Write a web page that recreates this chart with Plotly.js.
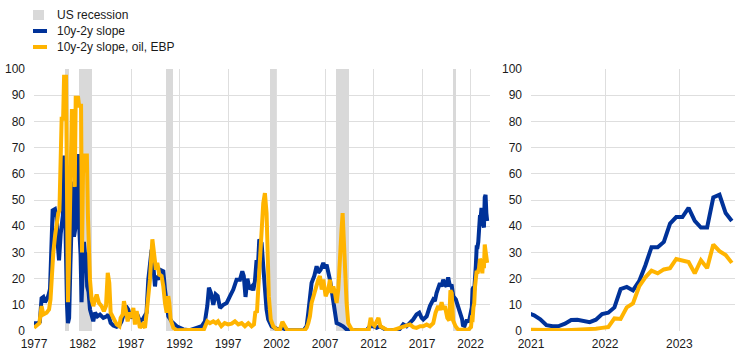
<!DOCTYPE html>
<html>
<head>
<meta charset="utf-8">
<script src="https://cdn.plot.ly/plotly-3.0.1.min.js"></script>
<style>
  html, body { margin: 0; padding: 0; background: #ffffff; }
  #chart { width: 744px; height: 358px; }
</style>
</head>
<body>
<div id="chart"></div>
<script>
// ---------------- DATA ----------------
// Series names
const seriesNames = ["US recession", "10y-2y slope", "10y-2y slope, oil, EBP"];

// US recession periods (decimal years, as shaded in the chart)
const recStart = [1980.2, 1981.6, 1990.65, 2001.3, 2008.1, 2020.2];
const recEnd   = [1980.6, 1982.95, 1991.3, 2001.95, 2009.5, 2020.45];
const recHeight = [100, 100, 100, 100, 100, 100];

// History 1977-2020: 10y-2y slope (probability, %)
const slopeHistT = [1977.0,1977.4,1977.6,1977.78,1977.96,1978.13,1978.3,1978.48,1978.65,1978.8,1978.92,1979.16,1979.33,1979.45,1979.58,1979.75,1979.85,1979.97,1980.1,1980.2,1980.3,1980.4,1980.5,1980.62,1980.75,1980.88,1981.0,1981.12,1981.3,1981.45,1981.57,1981.68,1981.8,1981.9,1982.02,1982.15,1982.28,1982.38,1982.48,1982.62,1982.77,1982.94,1983.11,1983.29,1983.53,1983.8,1984.15,1984.49,1984.66,1984.9,1985.18,1985.52,1985.8,1986.03,1986.27,1986.48,1986.72,1986.96,1987.24,1987.42,1987.65,1987.92,1988.2,1988.44,1988.6,1988.78,1988.95,1989.12,1989.3,1989.47,1989.57,1989.81,1989.98,1990.33,1990.5,1990.67,1990.84,1991.18,1991.7,1992.39,1993.07,1993.76,1994.28,1994.62,1994.86,1995.03,1995.24,1995.48,1995.72,1995.93,1996.17,1996.51,1996.86,1997.2,1997.54,1997.88,1998.23,1998.47,1998.62,1998.8,1999.0,1999.2,1999.45,1999.6,1999.77,1999.94,2000.1,2000.22,2000.46,2000.63,2000.8,2000.97,2001.14,2001.48,2001.8,2002.17,2002.5,2002.86,2003.2,2004.8,2005.1,2005.27,2005.44,2005.61,2005.89,2006.13,2006.3,2006.54,2006.82,2006.99,2007.16,2007.33,2007.5,2007.67,2007.85,2008.02,2008.19,2008.53,2008.86,2009.22,2009.5,2011.3,2011.62,2011.97,2012.31,2012.65,2013.0,2013.34,2014.6,2014.9,2015.06,2015.4,2015.75,2016.09,2016.43,2016.71,2016.95,2017.12,2017.47,2017.81,2018.15,2018.32,2018.49,2018.66,2018.84,2019.01,2019.18,2019.35,2019.52,2019.69,2019.87,2020.04,2020.21,2020.48,2020.72,2020.88];
const slopeHistV = [3,3,3.5,12.5,13,11,12,13.5,16,33,46,46.5,43.5,33,27,37,41,44,67,45,20,10,3,5,25,40,57,36,40,57,67.5,38,29,11,29,34,28,30,17,15,8.2,6.3,3.7,7,5.6,6.3,5,5.6,6.3,3.1,2.1,1.6,2.1,3.7,6.3,9.5,8.2,5,6.3,5,6.3,3.7,4.4,5.6,7,19.6,26,31,24.7,17,21,19.6,23.4,22.8,15.8,9.5,5.6,3.7,1.8,0.6,0.3,1.2,1.8,3.7,9.5,16.5,14.5,10,14,13.3,8.8,10,10.7,13.3,15.8,19.6,19.6,22.8,21,13,20,16,17,15.5,19,27,26,35,33.5,24.7,15.8,8.2,4.4,1.8,1.2,0.6,1.2,0.6,0.3,0.3,1.8,7,14.5,18.3,21,24.7,22.2,23.4,26,24,25.3,22.8,19.6,15.8,10.7,5.6,3,2.5,1.8,0.6,0.3,0.4,1.8,1.8,1.2,1.8,1.2,0.3,0.3,1.8,2.5,1.8,3,4.4,6.3,7,5,4.4,5.6,9.5,12,11.4,14.5,17,18.3,17,19.6,17.7,17,20.5,17,17.7,13.3,12,9.5,7.5];

// History 1977-2020: 10y-2y slope, oil, EBP (probability, %)
const oilHistT = [1977.0,1977.3,1977.55,1977.78,1977.96,1978.3,1978.55,1978.7,1978.82,1978.99,1979.16,1979.33,1979.5,1979.62,1979.7,1979.85,1980.0,1980.1,1980.3,1980.38,1980.5,1980.6,1980.75,1980.9,1981.1,1981.2,1981.3,1981.55,1981.65,1981.85,1981.95,1982.05,1982.2,1982.45,1982.55,1982.65,1982.77,1982.94,1983.11,1983.29,1983.46,1983.7,1983.97,1984.2,1984.42,1984.6,1984.76,1984.9,1985.18,1985.52,1985.8,1985.93,1986.14,1986.27,1986.48,1986.65,1986.9,1987.06,1987.24,1987.4,1987.58,1987.75,1987.92,1988.2,1988.44,1988.61,1988.95,1989.2,1989.37,1989.57,1989.71,1989.91,1990.15,1990.33,1990.5,1990.67,1990.84,1990.95,1991.08,1991.36,1991.7,1994.5,1994.86,1995.13,1995.48,1995.75,1995.97,1996.31,1996.65,1997.0,1997.37,1997.71,1998.06,1998.4,1998.74,1999.09,1999.43,1999.67,1999.82,1999.98,2000.11,2000.28,2000.46,2000.63,2000.8,2000.97,2001.07,2001.2,2001.4,2001.66,2002.0,2002.35,2002.6,2002.86,2003.1,2004.9,2005.1,2005.27,2005.44,2005.61,2005.89,2006.13,2006.3,2006.47,2006.65,2006.82,2007.06,2007.33,2007.5,2007.67,2007.85,2008.02,2008.19,2008.36,2008.53,2008.7,2008.81,2008.95,2009.05,2009.22,2009.39,2009.74,2010.0,2011.5,2011.7,2011.85,2012.1,2012.3,2012.5,2012.7,2013.0,2013.34,2014.0,2014.7,2015.06,2015.4,2015.75,2016.09,2016.43,2016.8,2017.12,2017.47,2017.81,2018.15,2018.39,2018.66,2018.84,2019.01,2019.2,2019.35,2019.6,2019.8,2019.92,2020.05,2020.2,2020.45,2020.7,2020.88];
const oilHistV = [1.2,2,3,9.5,6.3,7,8.2,12,21,30,36,41,45,46,65,81,81,97,97,50,11,25,60,84,84,55,89,89,86,86,30,60,67,67,45,25,19.6,12,9.5,12,13.9,10.7,9.5,7.6,9.5,22.2,18.3,7,5,2.5,1.8,5,6.3,11.4,7.6,3.7,7,5,8.8,2.5,7.6,3.7,1.2,2.5,1.2,7,19.6,35,28.5,23.4,26,21.5,21,17,10.7,7,13.3,10.7,4.4,1.2,0.3,0.5,3.7,3,3.7,3,3.7,1.8,3,2.5,2.8,3.7,2.5,3,1.8,3,1.8,2.5,7.5,7,15.8,26,40,48.8,52.6,45,32,13.3,4.4,1.8,0.6,0.6,3.5,1.5,0.3,0.3,1.2,3,5.6,10.7,14.5,18.3,19.6,21,15.8,19.6,13.3,15.8,19.6,14.5,17,14.5,10.7,15.8,24.7,38.7,45,32.3,19.6,10.7,3,0.6,0.3,0.5,5,3,2,3.7,5,1.8,1,0.5,0.3,1.2,1.5,1.8,2.5,1.5,1.2,1.8,1.8,2.5,1.8,3,7,9.5,8,11,8.2,9.5,5,4,15.5,14.5,4,1.8,0.6,0.5];

// Recent monthly data, Dec 2020 - Sep 2023
const recentMonths = ["2020-12","2021-01","2021-02","2021-03","2021-04","2021-05","2021-06","2021-07","2021-08","2021-09","2021-10","2021-11","2021-12","2022-01","2022-02","2022-03","2022-04","2022-05","2022-06","2022-07","2022-08","2022-09","2022-10","2022-11","2022-12","2023-01","2023-02","2023-03","2023-04","2023-05","2023-06","2023-07","2023-08","2023-09"];
const recentSlope  = [7,6,4.5,2.2,1.8,1.9,2.8,4.2,4.3,3.8,3.4,4.3,6.5,7,9,16,16.8,15.5,19,25,32,32,34,41,43.5,43.5,47,42,39.5,39.5,51,52,45,42];
const recentOil    = [0.5,0.4,0.3,0.2,0.2,0.2,0.3,0.4,0.5,0.4,0.5,0.9,1.2,1.5,4.8,4.6,9,10.5,17,20.5,23,22,23.5,24,27.5,26.8,26.3,22,27,24,33,30.5,29,26];

// Tick labels
const leftYears  = [1977,1982,1987,1992,1997,2002,2007,2012,2017,2022];
const rightYears = [2021,2022,2023];
const yTicks = [0,10,20,30,40,50,60,70,80,90,100];

// ---------------- BUILD ----------------
function monthToYear(s) {
  const p = s.split("-");
  return (+p[0]) + ((+p[1]) - 0.5) / 12;
}
const recentT = recentMonths.map(monthToYear);
const slopeT = slopeHistT.concat(recentT);
const slopeV = slopeHistV.concat(recentSlope);
const oilT = oilHistT.concat(recentT);
const oilV = oilHistV.concat(recentOil);

const BLUE = "#003299";
const YELLOW = "#FFB400";
const SHADE = "#D9D9D9";
const GRID = "#DEDEDE";
const FONT = "Liberation Sans, Arial, sans-serif";

const W = 744, H = 358;
const M = {l: 34, r: 9, t: 69, b: 27};
const PW = W - M.l - M.r, PH = H - M.t - M.b;
const px = v => (v - M.l) / PW;
const py = v => (H - M.b - v) / PH;

function lineTrace(t, v, color, xa, ya, name) {
  return {
    x: t, y: v, type: "scatter", mode: "lines", name: name,
    xaxis: xa, yaxis: ya, showlegend: false, hoverinfo: "skip",
    line: {color: color, width: 4}
  };
}

// recession bands as bars (drawn above gridlines, below lines)
const recBars = {
  type: "bar", name: seriesNames[0], xaxis: "x", yaxis: "y",
  x: recStart.map((s, i) => (s + recEnd[i]) / 2),
  y: recHeight,
  width: recStart.map((s, i) => recEnd[i] - s),
  marker: {color: SHADE, line: {width: 0}},
  showlegend: false, hoverinfo: "skip"
};

const traces = [
  recBars,
  lineTrace(slopeT, slopeV, BLUE, "x", "y", seriesNames[1]),
  lineTrace(oilT, oilV, YELLOW, "x", "y", seriesNames[2]),
  lineTrace(slopeT, slopeV, BLUE, "x2", "y2", seriesNames[1]),
  lineTrace(oilT, oilV, YELLOW, "x2", "y2", seriesNames[2])
];

// manual legend
const shapes = [
  {type: "rect", xref: "paper", yref: "paper",
   x0: px(33), x1: px(44), y0: py(20), y1: py(10),
   fillcolor: SHADE, line: {width: 0}},
  {type: "line", xref: "paper", yref: "paper",
   x0: px(33), x1: px(47), y0: py(31), y1: py(31),
   line: {color: BLUE, width: 4}},
  {type: "line", xref: "paper", yref: "paper",
   x0: px(33), x1: px(47), y0: py(47), y1: py(47),
   line: {color: YELLOW, width: 4}}
];

const legendY = [15, 31, 47];
const annotations = seriesNames.map((n, i) => ({
  text: n, xref: "paper", yref: "paper",
  x: px(55), y: py(legendY[i]), xanchor: "left", yanchor: "middle",
  showarrow: false, font: {family: FONT, size: 12, color: "#1a1a1a"}
}));

const axisFont = {family: FONT, size: 12, color: "#1a1a1a"};
const baseY = {
  range: [0, 100], tickvals: yTicks, showgrid: true, gridcolor: GRID, gridwidth: 1,
  zeroline: false, showline: false, ticks: "", ticklabelstandoff: 8,
  tickfont: axisFont, fixedrange: true
};

const layout = {
  width: W, height: H,
  margin: M,
  paper_bgcolor: "#ffffff", plot_bgcolor: "#ffffff",
  showlegend: false,
  bargap: 0,
  xaxis: {
    domain: [0, px(490)], range: [1977, 2024], tickvals: leftYears,
    showgrid: true, gridcolor: GRID, zeroline: false, showline: false, ticks: "",
    tickfont: axisFont, ticklabelstandoff: 4, fixedrange: true
  },
  yaxis: Object.assign({anchor: "x"}, baseY),
  xaxis2: {
    domain: [px(531), 1], range: [2021, 2023.751], tickvals: rightYears,
    anchor: "y2",
    showgrid: true, gridcolor: GRID, zeroline: false, showline: false, ticks: "",
    tickfont: axisFont, ticklabelstandoff: 4, fixedrange: true
  },
  yaxis2: Object.assign({anchor: "x2"}, baseY),
  shapes: shapes,
  annotations: annotations
};

Plotly.newPlot("chart", traces, layout, {staticPlot: true, displayModeBar: false});
</script>
</body>
</html>
